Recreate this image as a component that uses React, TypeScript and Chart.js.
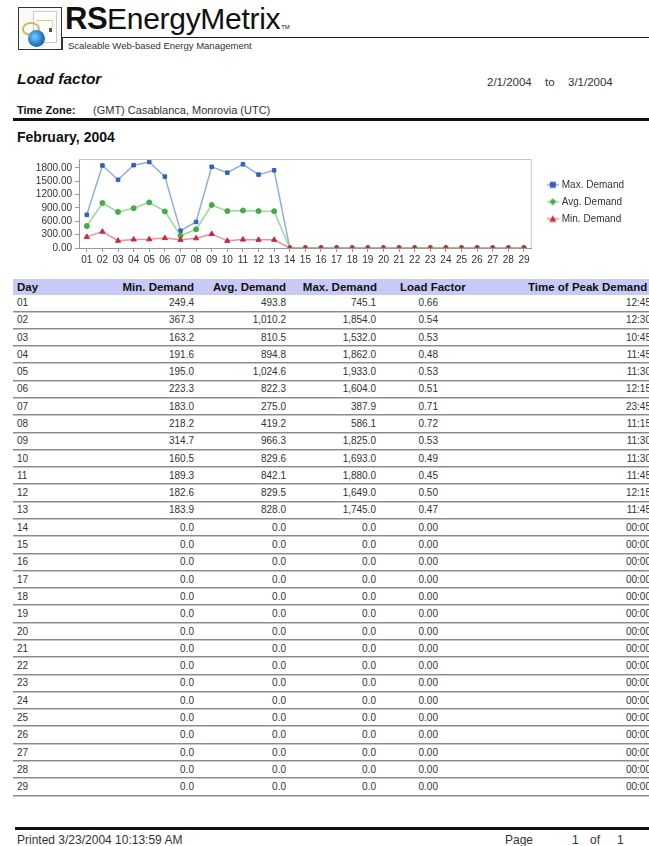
import React, { useEffect, useRef } from "react";
import { Chart, registerables } from "chart.js";

Chart.register(...registerables);

const days = ["01","02","03","04","05","06","07","08","09","10","11","12","13","14","15","16","17","18","19","20","21","22","23","24","25","26","27","28","29"];
const minDemand = [249.4, 367.3, 163.2, 191.6, 195.0, 223.3, 183.0, 218.2, 314.7, 160.5, 189.3, 182.6, 183.9, 0, 0, 0, 0, 0, 0, 0, 0, 0, 0, 0, 0, 0, 0, 0, 0];
const avgDemand = [493.8, 1010.2, 810.5, 894.8, 1024.6, 822.3, 275.0, 419.2, 966.3, 829.6, 842.1, 829.5, 828.0, 0, 0, 0, 0, 0, 0, 0, 0, 0, 0, 0, 0, 0, 0, 0, 0];
const maxDemand = [745.1, 1854.0, 1532.0, 1862.0, 1933.0, 1604.0, 387.9, 586.1, 1825.0, 1693.0, 1880.0, 1649.0, 1745.0, 0, 0, 0, 0, 0, 0, 0, 0, 0, 0, 0, 0, 0, 0, 0, 0];
const loadFactor = [0.66, 0.54, 0.53, 0.48, 0.53, 0.51, 0.71, 0.72, 0.53, 0.49, 0.45, 0.50, 0.47, 0, 0, 0, 0, 0, 0, 0, 0, 0, 0, 0, 0, 0, 0, 0, 0];
const peakTime = ["12:45","12:30","10:45","11:45","11:30","12:15","23:45","11:15","11:30","11:30","11:45","12:15","11:45","00:00","00:00","00:00","00:00","00:00","00:00","00:00","00:00","00:00","00:00","00:00","00:00","00:00","00:00","00:00","00:00"];
const yTicks = [0, 300, 600, 900, 1200, 1500, 1800];
const yMax = 2000;

const FONT = '"Liberation Sans", Arial, Helvetica, sans-serif';

const fmt1 = (n: number) => n.toLocaleString("en-US", { minimumFractionDigits: 1, maximumFractionDigits: 1 });

function makeMarker(kind: string, color: string, line: string) {
  const c = document.createElement("canvas");
  c.width = 22;
  c.height = 9;
  const ctx = c.getContext("2d")!;
  ctx.strokeStyle = line;
  ctx.lineWidth = 1.5;
  ctx.beginPath();
  ctx.moveTo(10, 4.5);
  ctx.lineTo(22, 4.5);
  ctx.stroke();
  ctx.fillStyle = color;
  ctx.beginPath();
  const cx = 16;
  if (kind === "square") {
    ctx.rect(cx - 3, 1.5, 6, 6);
  } else if (kind === "diamond") {
    ctx.moveTo(cx, 1);
    ctx.lineTo(cx + 3.5, 4.5);
    ctx.lineTo(cx, 8);
    ctx.lineTo(cx - 3.5, 4.5);
    ctx.closePath();
  } else {
    ctx.moveTo(cx, 1);
    ctx.lineTo(cx + 3.5, 7.5);
    ctx.lineTo(cx - 3.5, 7.5);
    ctx.closePath();
  }
  ctx.fill();
  return c;
}

const frame = {
  id: "frame",
  afterDatasetsDraw(chart: any) {
    const { ctx, chartArea } = chart;
    ctx.save();
    ctx.strokeStyle = "#c4c4c4";
    ctx.lineWidth = 1;
    ctx.beginPath();
    ctx.moveTo(chartArea.left, chartArea.top + 0.5);
    ctx.lineTo(chartArea.right - 0.5, chartArea.top + 0.5);
    ctx.lineTo(chartArea.right - 0.5, chartArea.bottom);
    ctx.stroke();
    ctx.restore();
  },
};

function DemandChart() {
  const ref = useRef<HTMLCanvasElement>(null);
  useEffect(() => {
    if (!ref.current) return;
    const colors = {
      max: { pt: "#2f5fc8", line: "#8eaee0" },
      avg: { pt: "#3fae3f", line: "#9ad89a" },
      min: { pt: "#d22638", line: "#ef8e9c" },
    };
    const markers = [
      makeMarker("triangle", colors.min.pt, colors.min.line),
      makeMarker("diamond", colors.avg.pt, colors.avg.line),
      makeMarker("square", colors.max.pt, colors.max.line),
    ];
    const chart = new Chart(ref.current, {
      type: "line",
      data: {
        labels: days,
        datasets: [
          {
            label: "Min. Demand",
            data: minDemand,
            borderColor: colors.min.line,
            backgroundColor: colors.min.pt,
            pointBackgroundColor: colors.min.pt,
            pointBorderColor: colors.min.pt,
            pointStyle: "triangle",
            pointRadius: 3,
            pointBorderWidth: 1,
            borderWidth: 1.5,
          },
          {
            label: "Avg. Demand",
            data: avgDemand,
            borderColor: colors.avg.line,
            backgroundColor: colors.avg.pt,
            pointBackgroundColor: colors.avg.pt,
            pointBorderColor: colors.avg.pt,
            pointStyle: "circle",
            pointRadius: 2.5,
            pointBorderWidth: 1,
            borderWidth: 1.5,
          },
          {
            label: "Max. Demand",
            data: maxDemand,
            borderColor: colors.max.line,
            backgroundColor: colors.max.pt,
            pointBackgroundColor: colors.max.pt,
            pointBorderColor: colors.max.pt,
            pointStyle: "rect",
            pointRadius: 2.5,
            pointBorderWidth: 1,
            borderWidth: 1.5,
          },
        ],
      },
      options: {
        animation: false,
        responsive: false,
        layout: { padding: { top: 9, right: 3, bottom: 2, left: 0 } },
        plugins: {
          tooltip: { enabled: false },
          legend: {
            position: "right",
            align: "start",
            reverse: true,
            title: { display: true, text: " ", font: { size: 4 }, padding: { top: 9, bottom: 0 } },
            labels: {
              usePointStyle: true,
              pointStyleWidth: 18,
              padding: 7,
              color: "#333",
              font: { family: FONT, size: 10 },
              generateLabels: (c: any) => {
                const items = Chart.defaults.plugins.legend.labels.generateLabels(c);
                items.forEach((it: any) => {
                  it.pointStyle = markers[it.datasetIndex];
                });
                return items;
              },
            },
          },
        },
        scales: {
          x: {
            type: "category",
            offset: true,
            grid: { display: true, drawOnChartArea: false, drawTicks: true, tickLength: 4, color: "#999" },
            border: { color: "#999" },
            ticks: { color: "#333", font: { family: FONT, size: 10 }, maxRotation: 0, autoSkip: false, padding: 2 },
          },
          y: {
            min: 0,
            max: yMax,
            afterBuildTicks: (s: any) => {
              s.ticks = yTicks.map((v) => ({ value: v }));
            },
            afterFit: (s: any) => {
              s.width = 62;
            },
            grid: { display: true, drawOnChartArea: false, drawTicks: true, tickLength: 4, color: "#999" },
            border: { color: "#999" },
            ticks: {
              color: "#333",
              autoSkip: false,
              font: { family: FONT, size: 10 },
              padding: 3,
              callback: (v: any) => Number(v).toFixed(2),
            },
          },
        },
      },
      plugins: [frame],
    } as any);
    return () => chart.destroy();
  }, []);
  return <canvas ref={ref} width={620} height={120} style={{ position: "absolute", left: 17, top: 150, width: 620, height: 120 }} />;
}

type TP = { x: number; y: number; size: number; bold?: boolean; italic?: boolean; align?: "left" | "right"; color?: string; children: React.ReactNode; ls?: number };
function T({ x, y, size, bold, italic, align = "left", color = "#222", children, ls }: TP) {
  const lh = Math.round(size * 1.3);
  const st: React.CSSProperties = {
    position: "absolute",
    top: y - lh / 2,
    height: lh,
    lineHeight: lh + "px",
    fontSize: size,
    fontWeight: bold ? 700 : 400,
    fontStyle: italic ? "italic" : "normal",
    color,
    whiteSpace: "nowrap",
    letterSpacing: ls,
  };
  if (align === "left") st.left = x;
  else {
    st.left = x - 300;
    st.width = 300;
    st.textAlign = "right";
  }
  return <div style={st}>{children}</div>;
}

const ROW0 = 302.5;
const ROWH = 17.29;

export default function App() {
  return (
    <div style={{ position: "absolute", left: 0, top: 0, width: 649, height: 846, overflow: "hidden", background: "#fff", fontFamily: FONT }}>
      {/* Logo icon */}
      <div style={{ position: "absolute", left: 18, top: 7, width: 42, height: 41, border: "1.5px solid #333", background: "#fafafa", overflow: "hidden" }}>
        <div style={{ position: "absolute", left: 14, top: 3, width: 22, height: 30, background: "#fff", border: "1px solid #ccc" }} />
        <div style={{ position: "absolute", left: 17, top: 12, width: 16, height: 8, borderTop: "1.5px solid #d8d060", borderRight: "1px solid #e0e0a0" }} />
        <div style={{ position: "absolute", left: 3, top: 14, width: 14, height: 10, borderRadius: "50%", border: "2.5px solid #c8c050", background: "transparent" }} />
        <div style={{ position: "absolute", left: 9, top: 22, width: 17, height: 17, borderRadius: "50%", background: "radial-gradient(circle at 40% 40%, #6fd0ff, #1d6fc0 60%, #1a7a40)" }} />
        <div style={{ position: "absolute", left: 30, top: 20, width: 3, height: 4, background: "#555" }} />
      </div>
      {/* Logo text */}
      <div style={{ position: "absolute", left: 65, top: 2, height: 34, lineHeight: "34px", fontSize: 30, whiteSpace: "nowrap", color: "#111" }}>
        <span style={{ fontFamily: '"Liberation Sans Narrow", "Arial Narrow", ' + FONT, fontWeight: 700, letterSpacing: -0.5, fontSize: 31 }}>RS</span>
        <span style={{ letterSpacing: -0.3 }}>EnergyMetrix</span>
        <span style={{ fontSize: 6, marginLeft: 1 }}>TM</span>
      </div>
      <div style={{ position: "absolute", left: 63, top: 37, width: 586, height: 1, background: "#222" }} />
      <div style={{ position: "absolute", left: 62, top: 37, width: 1, height: 13, background: "#333" }} />
      <T x={68} y={46} size={9.5} color="#333">Scaleable Web-based Energy Management</T>

      {/* Title row */}
      <T x={17} y={79} size={15.5} bold italic color="#111">Load factor</T>
      <T x={487} y={82} size={11.5} color="#333">2/1/2004</T>
      <T x={545} y={82} size={11.5} color="#333">to</T>
      <T x={568} y={82} size={11.5} color="#333">3/1/2004</T>

      <T x={17} y={110} size={11} bold color="#111">Time Zone:</T>
      <T x={93} y={110} size={11} color="#333">(GMT) Casablanca, Monrovia (UTC)</T>
      <div style={{ position: "absolute", left: 13, top: 118, width: 636, height: 3, background: "#111" }} />

      <T x={17} y={137} size={14} bold color="#111">February, 2004</T>

      <DemandChart />

      {/* Table header */}
      <div style={{ position: "absolute", left: 13, top: 279, width: 636, height: 16, background: "#c9c9f7" }} />
      <T x={17} y={287} size={11.5} bold color="#111">Day</T>
      <T x={194} y={287} size={11.5} bold align="right" color="#111">Min. Demand</T>
      <T x={286} y={287} size={11.5} bold align="right" color="#111">Avg. Demand</T>
      <T x={377} y={287} size={11.5} bold align="right" color="#111">Max. Demand</T>
      <T x={400} y={287} size={11.5} bold color="#111">Load Factor</T>
      <T x={528} y={287} size={11.5} bold color="#111">Time of Peak Demand</T>

      {days.map((d, i) => {
        const cy = ROW0 + i * ROWH;
        return (
          <React.Fragment key={d}>
            <T x={17} y={cy} size={10} color="#333">{d}</T>
            <T x={194} y={cy} size={10} align="right" color="#333">{fmt1(minDemand[i])}</T>
            <T x={286} y={cy} size={10} align="right" color="#333">{fmt1(avgDemand[i])}</T>
            <T x={376} y={cy} size={10} align="right" color="#333">{fmt1(maxDemand[i])}</T>
            <T x={438} y={cy} size={10} align="right" color="#333">{loadFactor[i].toFixed(2)}</T>
            <T x={651} y={cy} size={10} align="right" color="#333">{peakTime[i]}</T>
            <div style={{ position: "absolute", left: 13, top: Math.round(cy + 8), width: 636, height: 0, borderTop: "1px solid #8a8a8a", borderBottom: "1px solid #c8c8c8" }} />
          </React.Fragment>
        );
      })}

      {/* Footer */}
      <div style={{ position: "absolute", left: 15, top: 827, width: 634, height: 3, background: "#111" }} />
      <T x={17} y={840} size={12} color="#333">Printed 3/23/2004 10:13:59 AM</T>
      <T x={505} y={840} size={12} color="#333">Page</T>
      <T x={572} y={840} size={12} color="#333">1</T>
      <T x={590} y={840} size={12} color="#333">of</T>
      <T x={617} y={840} size={12} color="#333">1</T>
    </div>
  );
}
